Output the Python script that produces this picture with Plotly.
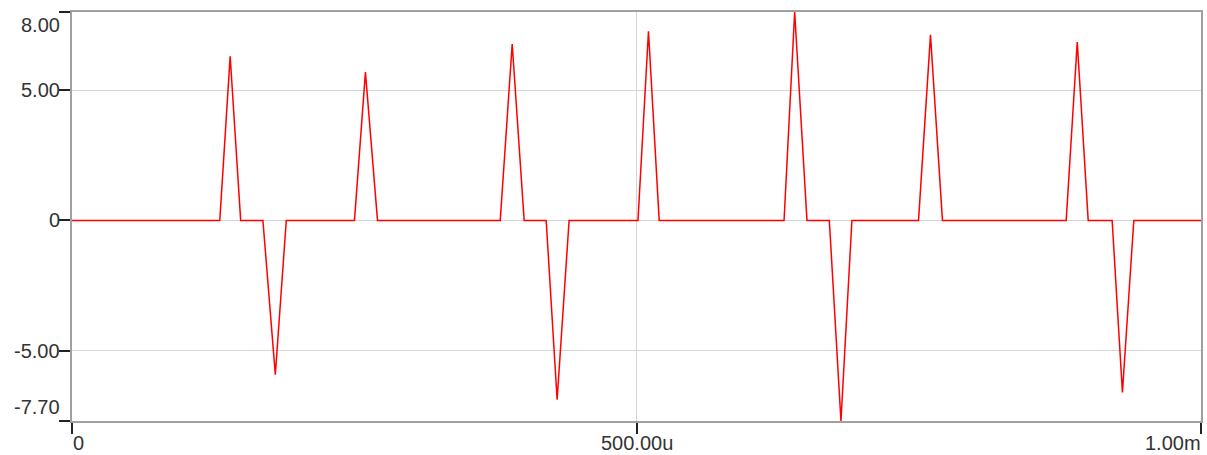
import plotly.graph_objects as go

# time in microseconds, value in volts
pulse_start = [130.9, 169.1, 250.2, 379.3, 420.0, 501.3, 630.7, 670.8, 749.8, 880.6, 921.3]
pulse_peak_t = [140.1, 180.1, 259.9, 389.9, 429.7, 510.6, 640.1, 681.1, 760.4, 890.4, 930.4]
pulse_end = [149.4, 189.8, 270.6, 400.5, 440.3, 520.1, 651.0, 690.8, 771.0, 900.1, 940.5]
pulse_peak_v = [6.30, -5.92, 5.69, 6.77, -6.88, 7.26, 8.00, -7.70, 7.12, 6.85, -6.60]
t_start, t_stop = 0.0, 1000.0

y_tick_vals = [8.00, 5.00, 0, -5.00, -7.70]
y_tick_text = ["8.00", "5.00", "0", "-5.00", "-7.70"]
x_tick_vals = [0, 500.0, 1000.0]
x_tick_text = ["0", "500.00u", "1.00m"]

# build polyline through the vertices
xs = [t_start]
ys = [0.0]
for s, p, e, v in zip(pulse_start, pulse_peak_t, pulse_end, pulse_peak_v):
    xs += [s, p, e]
    ys += [0.0, v, 0.0]
xs.append(t_stop)
ys.append(0.0)
xs = [x * 1e-6 for x in xs]

fig = go.Figure()
fig.add_trace(go.Scatter(x=xs, y=ys, mode="lines",
                         line=dict(color="#ff0000", width=1.5),
                         hoverinfo="skip", showlegend=False))

FONT = dict(family="Liberation Sans, Arial, sans-serif", size=20, color="#333333")

fig.update_layout(
    width=1207, height=455,
    margin=dict(l=72, r=4, t=12, b=34),
    paper_bgcolor="white", plot_bgcolor="white",
    showlegend=False,
)
fig.update_xaxes(
    range=[t_start * 1e-6, t_stop * 1e-6],
    tickvals=[v * 1e-6 for v in x_tick_vals],
    showticklabels=False,
    ticks="outside", ticklen=11, tickwidth=1.5, tickcolor="#222222",
    showgrid=True, gridcolor="#d4d4d4", gridwidth=1,
    showline=True, linecolor="#a0a0a0", linewidth=1.5, mirror=True,
    zeroline=False, fixedrange=True,
)
fig.update_yaxes(
    range=[-7.70, 8.00],
    tickvals=y_tick_vals,
    showticklabels=False,
    ticks="outside", ticklen=11, tickwidth=1.5, tickcolor="#222222",
    showgrid=True, gridcolor="#d4d4d4", gridwidth=1,
    showline=True, linecolor="#a0a0a0", linewidth=1.5, mirror=True,
    zeroline=False, fixedrange=True,
)

ann = []
for v, t in zip(y_tick_vals, y_tick_text):
    shift = 0
    if v == max(y_tick_vals):
        shift = -13
    elif v == min(y_tick_vals):
        shift = 14
    ann.append(dict(x=0, xref="paper", y=v, yref="y", text=t, showarrow=False,
                    xanchor="right", yanchor="middle", xshift=-10, yshift=shift,
                    font=FONT))
for i, (v, t) in enumerate(zip(x_tick_vals, x_tick_text)):
    anchor = "center"
    xshift = 0
    if i == 0:
        anchor = "left"
        xshift = -1
    elif i == len(x_tick_vals) - 1:
        anchor = "right"
        xshift = 2
    ann.append(dict(x=v * 1e-6, xref="x", y=0, yref="paper", text=t, showarrow=False,
                    xanchor=anchor, yanchor="middle", xshift=xshift, yshift=-22,
                    font=FONT))
fig.update_layout(annotations=ann)

fig.write_html(
    "out.html",
    config={"responsive": False, "displayModeBar": False},
    post_script="document.body.style.margin='0';document.body.style.overflow='hidden';",
)
